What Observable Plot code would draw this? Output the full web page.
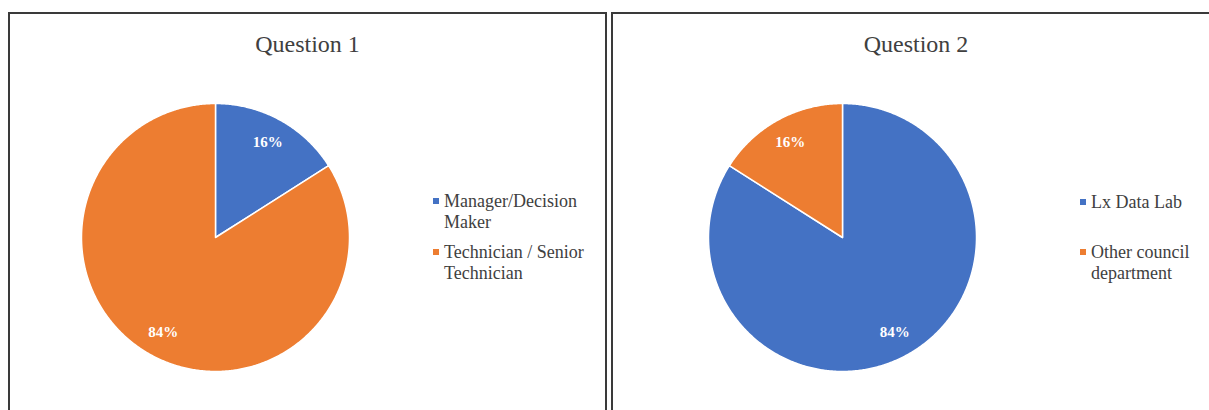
<!DOCTYPE html>
<html>
<head>
<meta charset="utf-8">
<script src="https://cdn.jsdelivr.net/npm/d3@7"></script>
<script src="https://cdn.jsdelivr.net/npm/@observablehq/plot@0.6"></script>
<style>
  html, body { margin: 0; padding: 0; background: #fff; overflow: hidden; width: 1209px; height: 410px; }
  body { position: relative; font-family: "Liberation Serif", "Times New Roman", serif; }
  .panel { position: absolute; border: 2px solid #3a3a3a; box-sizing: border-box; background: #fff; }
  .panel svg { position: absolute; left: 0; top: 0; }
  .title { position: absolute; width: 100%; text-align: center; font-size: 24px; line-height: 28px; color: #404040; top: 16px; }
  .leg { position: absolute; font-size: 18px; line-height: 20.5px; color: #404040; width: 160px; }
  .sw { position: absolute; width: 6px; height: 6px; }
</style>
</head>
<body>
<div id="p1" class="panel" style="left:8px; top:12px; width:599px; height:420px;"></div>
<div id="p2" class="panel" style="left:611px; top:12px; width:610px; height:420px;"></div>
<script>
// ---- data ----
const q1Title = "Question 1";
const q1Categories = ["Manager/Decision Maker", "Technician / Senior Technician"];
const q1Values = [16, 84];
const q2Title = "Question 2";
const q2Categories = ["Lx Data Lab", "Other council department"];
const q2Values = [84, 16];
const sliceColors = ["#4472C4", "#ED7D31"];

function slicePoints(cats, vals) {
  const total = d3.sum(vals);
  const pts = [];
  const labels = [];
  let start = 0;
  cats.forEach((c, i) => {
    const a0 = start, a1 = start + vals[i] / total * 2 * Math.PI;
    pts.push({key: c, x: 0, y: 0});
    const n = Math.max(2, Math.ceil((a1 - a0) / (Math.PI / 360)));
    for (let k = 0; k <= n; k++) {
      const a = a0 + (a1 - a0) * k / n;
      pts.push({key: c, x: Math.sin(a), y: Math.cos(a)});
    }
    const m = (a0 + a1) / 2;
    labels.push({key: c, x: 0.81 * Math.sin(m), y: 0.81 * Math.cos(m), text: Math.round(vals[i] / total * 100) + "%"});
    start = a1;
  });
  return {pts, labels};
}

function drawPanel(id, title, cats, vals, cx, cy, r, legendLeft, legendTops) {
  const panel = document.getElementById(id);
  const {pts, labels} = slicePoints(cats, vals);
  const chart = Plot.plot({
    width: 594, height: 400,
    x: {domain: [-1, 1], range: [cx - r, cx + r], axis: null},
    y: {domain: [-1, 1], range: [cy + r, cy - r], axis: null},
    color: {type: "ordinal", domain: cats, range: sliceColors},
    marks: [
      Plot.line(pts, {x: "x", y: "y", z: "key", fill: "key", stroke: "white", strokeWidth: 1.5, curve: "linear-closed"}),
      Plot.text(labels, {x: "x", y: "y", text: "text", fill: "white", fontWeight: "bold", fontSize: 15, fontFamily: "Liberation Serif"})
    ]
  });
  panel.appendChild(chart);
  const t = document.createElement("div");
  t.className = "title"; t.textContent = title;
  panel.appendChild(t);
  cats.forEach((c, i) => {
    const sw = document.createElement("div");
    sw.className = "sw";
    sw.style.background = sliceColors[i];
    sw.style.left = (legendLeft - 11) + "px";
    sw.style.top = (legendTops[i] + 7) + "px";
    panel.appendChild(sw);
    const l = document.createElement("div");
    l.className = "leg"; l.textContent = c;
    l.style.left = legendLeft + "px";
    l.style.top = legendTops[i] + "px";
    panel.appendChild(l);
  });
}

drawPanel("p1", q1Title, q1Categories, q1Values, 205, 223, 134, 434, [177, 228]);
drawPanel("p2", q2Title, q2Categories, q2Values, 229, 223, 134, 478, [178, 228]);
</script>
</body>
</html>
